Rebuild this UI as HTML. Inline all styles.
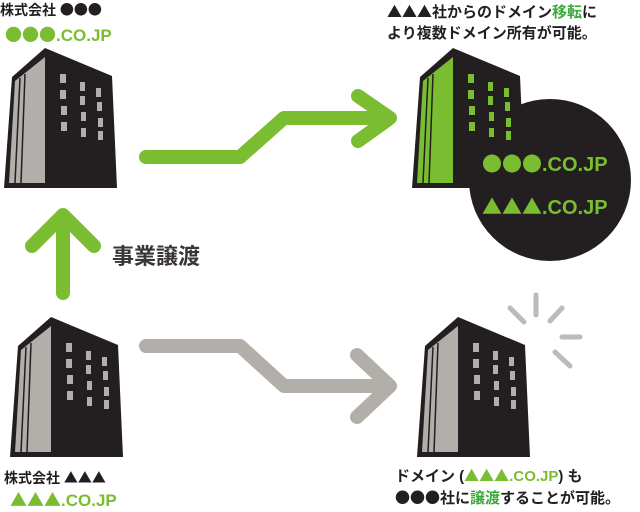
<!DOCTYPE html>
<html><head><meta charset="utf-8"><style>
body{margin:0;background:#fff}
svg text{font-family:"Liberation Sans","Noto Sans CJK JP",sans-serif;font-weight:bold}
.s{font-family:"Noto Sans CJK JP",sans-serif}
</style></head><body>
<svg width="640" height="507" viewBox="0 0 640 507" xmlns="http://www.w3.org/2000/svg">
<defs>
<g id="win">
<rect x="60" y="74" width="6" height="9"/><rect x="80" y="82" width="5" height="9"/><rect x="96" y="88" width="5" height="9"/>
<rect x="60" y="90" width="6" height="9"/><rect x="80" y="96" width="5" height="9"/><rect x="97" y="102" width="5" height="9"/>
<rect x="61" y="106" width="6" height="9"/><rect x="81" y="112" width="5" height="9"/><rect x="98" y="118" width="5" height="9"/>
<rect x="61" y="122" width="6" height="9"/><rect x="81" y="128" width="5" height="9"/><rect x="98" y="131" width="5" height="9"/>
</g>
<g id="body">
<polygon points="12,77 45,48 112,76 117,188 4,188" fill="#231f20"/>
</g>
<g id="lines">
<line x1="20" y1="78" x2="15" y2="183" stroke="#231f20" stroke-width="1.5"/>
<line x1="25" y1="74" x2="21" y2="183" stroke="#231f20" stroke-width="1.5"/>
</g>
</defs>
<g>
<use href="#body"/>
<polygon points="15,81 45,57 45,183 9,183" fill="#b2aeaa"/>
<use href="#lines"/>
<use href="#win" fill="#b2aeaa"/>
</g>
<g transform="translate(6,269)">
<use href="#body"/>
<polygon points="15,81 45,57 45,183 9,183" fill="#b2aeaa"/>
<use href="#lines"/>
<use href="#win" fill="#b2aeaa"/>
</g>
<circle cx="550" cy="180" r="81" fill="#231f20"/>
<g transform="translate(408,0)">
<use href="#body"/>
<polygon points="15,81 45,57 45,183 9,183" fill="#7bbd31"/>
<use href="#lines"/>
<use href="#win" fill="#7bbd31"/>
</g>
<g transform="translate(413,269)">
<use href="#body"/>
<polygon points="15,81 45,57 45,183 9,183" fill="#b2aeaa"/>
<use href="#lines"/>
<use href="#win" fill="#b2aeaa"/>
</g>
<g stroke="#bdbab7" stroke-width="5" stroke-linecap="round">
<line x1="536" y1="295" x2="536" y2="315"/>
<line x1="510" y1="308" x2="524" y2="322"/>
<line x1="562" y1="308" x2="550" y2="321"/>
<line x1="562" y1="337" x2="580" y2="337"/>
<line x1="555" y1="352" x2="570" y2="366"/>
</g>
<g fill="none" stroke-linecap="round" stroke-linejoin="round" stroke-width="14">
<polyline points="146,157 240,157 284,118 388,118" stroke="#7bbd31"/>
<polyline points="358,96 390,118 358,141" stroke="#7bbd31"/>
<polyline points="146,346 240,346 284,386 388,386" stroke="#b2aeaa"/>
<polyline points="357,355 390,386 357,417" stroke="#b2aeaa"/>
<polyline points="63,293 63,216" stroke="#7bbd31"/>
<polyline points="32,246 63,215 94,246" stroke="#7bbd31"/>
</g>
<text x="112" y="264" font-size="22" fill="#3a3536">事業譲渡</text>
<text x="0" y="15" font-size="14" fill="#231f20">株式会社 <tspan class="s">●●●</tspan></text>
<text x="5" y="41" font-size="17" fill="#7bbd31"><tspan class="s">●●●</tspan>.CO.JP</text>
<text x="4" y="483" font-size="14" fill="#231f20">株式会社 <tspan class="s">▲▲▲</tspan></text>
<text x="10" y="506" font-size="17" fill="#7bbd31"><tspan class="s">▲▲▲</tspan>.CO.JP</text>
<text x="387" y="17" font-size="15" fill="#231f20"><tspan class="s">▲▲▲</tspan>社からのドメイン<tspan fill="#3aa83a">移転</tspan>に</text>
<text x="387" y="38" font-size="15" fill="#231f20">より複数ドメイン所有が可能。</text>
<text x="482" y="171" font-size="20" fill="#7bbd31"><tspan class="s">●●●</tspan>.CO.JP</text>
<text x="482" y="214" font-size="20" fill="#7bbd31"><tspan class="s">▲▲▲</tspan>.CO.JP</text>
<text x="395" y="481" font-size="15" fill="#231f20">ドメイン (<tspan fill="#7bbd31"><tspan class="s">▲▲▲</tspan>.CO.JP</tspan>) も</text>
<text x="395" y="503" font-size="15" fill="#231f20"><tspan class="s">●●●</tspan>社に<tspan fill="#3aa83a">譲渡</tspan>することが可能。</text>
</svg>
</body></html>
